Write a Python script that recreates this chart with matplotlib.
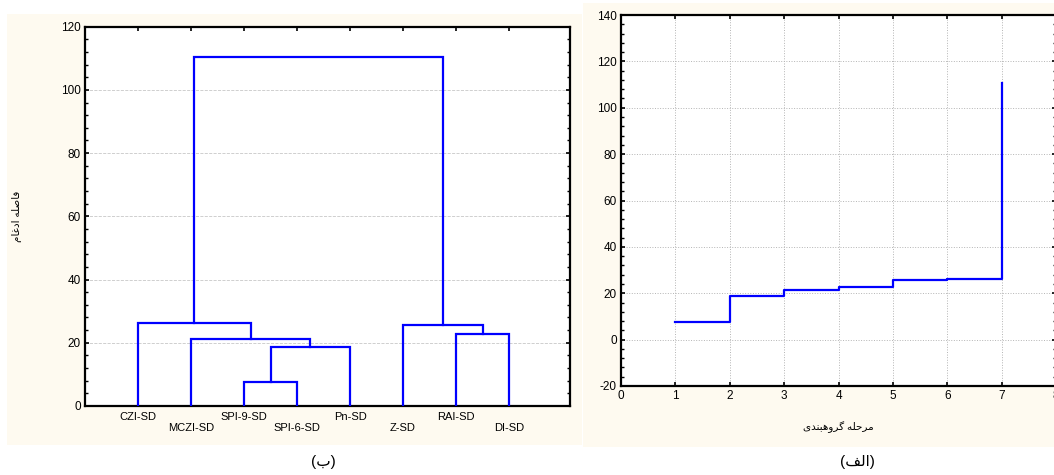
import matplotlib

matplotlib.use("Agg")
import matplotlib.pyplot as plt
from matplotlib.patches import Rectangle
from matplotlib.ticker import MultipleLocator

plt.rcParams["font.family"] = ["Liberation Sans", "DejaVu Sans"]
plt.rcParams["axes.unicode_minus"] = False

# --- data -------------------------------------------------------------
leaf_labels = ["CZI-SD", "MCZI-SD", "SPI-9-SD", "SPI-6-SD", "Pn-SD", "Z-SD", "RAI-SD", "DI-SD"]
# merges: (left node, right node, linkage distance); new node ids start at len(leaf_labels)
merge_left = [2, 8, 1, 0, 6, 5, 11]
merge_right = [3, 4, 9, 10, 7, 12, 13]
merge_height = [7.5, 18.6, 21.3, 26.3, 22.8, 25.7, 110.5]

steps = [1, 2, 3, 4, 5, 6, 7]
step_distance = [7.5, 18.6, 21.3, 22.8, 25.7, 26.3, 110.5]

# Persian labels (shaped presentation forms, visual order)
ylabel_left = "\uFEE1\uFE8E\uFECF\uFEA9\uFE8D \uFEEA\uFEE0\uFEBB\uFE8E\uFED3"
xlabel_right = "\uFBFC\uFEAA\uFEE8\uFE92\uFEEB\uFEED\uFEAE\uFB94 \uFEEA\uFEE0\uFEA3\uFEAE\uFEE3"
caption_left = "(\uFE8F)"
caption_right = "(\uFED2\uFEDF\uFE8D)"

W, H = 1054, 475
BLUE = "#0000FF"
CREAM = "#FEFAF0"


def px(x0, y0, x1, y1):
    return [x0 / W, 1 - y1 / H, (x1 - x0) / W, (y1 - y0) / H]


def style_axes(ax):
    for sp in ax.spines.values():
        sp.set_linewidth(1.6)
        sp.set_color("black")
    ax.tick_params(which="both", direction="in", top=True, right=True, labelsize=8.5, pad=3)
    ax.tick_params(which="major", length=3, width=1.2)
    ax.tick_params(which="minor", length=2, width=1.0)


fig = plt.figure(figsize=(W / 100, H / 100), dpi=100)
fig.patches.append(Rectangle((7 / W, 1 - 445 / H), (582 - 7) / W, (445 - 14) / H,
                             transform=fig.transFigure, facecolor=CREAM, edgecolor="none", zorder=-10))
fig.patches.append(Rectangle((583 / W, 1 - 447 / H), (W - 583) / W, (447 - 3) / H,
                             transform=fig.transFigure, facecolor=CREAM, edgecolor="none", zorder=-10))

# --- left: dendrogram -------------------------------------------------
ax1 = fig.add_axes(px(85, 26.7, 570, 406))
node_x = {i: i + 1.0 for i in range(len(leaf_labels))}
node_y = {i: 0.0 for i in range(len(leaf_labels))}
for k, (a, b, h) in enumerate(zip(merge_left, merge_right, merge_height)):
    nid = len(leaf_labels) + k
    ax1.plot([node_x[a], node_x[a], node_x[b], node_x[b]], [node_y[a], h, h, node_y[b]],
             color=BLUE, lw=1.6, solid_joinstyle="miter", zorder=3)
    node_x[nid] = (node_x[a] + node_x[b]) / 2
    node_y[nid] = h

ax1.set_xlim(0, 9.15)
ax1.set_ylim(0, 120)
ax1.set_xticks(range(1, len(leaf_labels) + 1))
ax1.set_xticklabels([lab if i % 2 == 0 else "\n" + lab for i, lab in enumerate(leaf_labels)])
ax1.yaxis.set_major_locator(MultipleLocator(20))
ax1.yaxis.set_minor_locator(MultipleLocator(4))
ax1.grid(axis="y", linestyle="--", color="#C8C8C8", lw=0.6)
style_axes(ax1)
ax1.tick_params(axis="x", pad=4, labelsize=8)
ax1.set_ylabel(ylabel_left, fontsize=7.5, labelpad=28)

# --- right: linkage distance by step ----------------------------------
ax2 = fig.add_axes(px(621, 15, 1056, 386))
ax2.plot(steps, step_distance, drawstyle="steps-post", color=BLUE, lw=1.6, zorder=3)
ax2.set_xlim(0, 8)
ax2.set_ylim(-20, 140)
ax2.xaxis.set_major_locator(MultipleLocator(1))
ax2.yaxis.set_major_locator(MultipleLocator(20))
ax2.yaxis.set_minor_locator(MultipleLocator(4))
ax2.grid(True, linestyle=":", color="#B4B4B4", lw=0.7)
style_axes(ax2)
ax2.set_xlabel(xlabel_right, fontsize=7.5, labelpad=14)

fig.text(323 / W, 1 - 462 / H, caption_left, ha="center", va="center", fontsize=11)
fig.text(857 / W, 1 - 462 / H, caption_right, ha="center", va="center", fontsize=11)

fig.savefig("out.png", dpi=100)
plt.close(fig)
